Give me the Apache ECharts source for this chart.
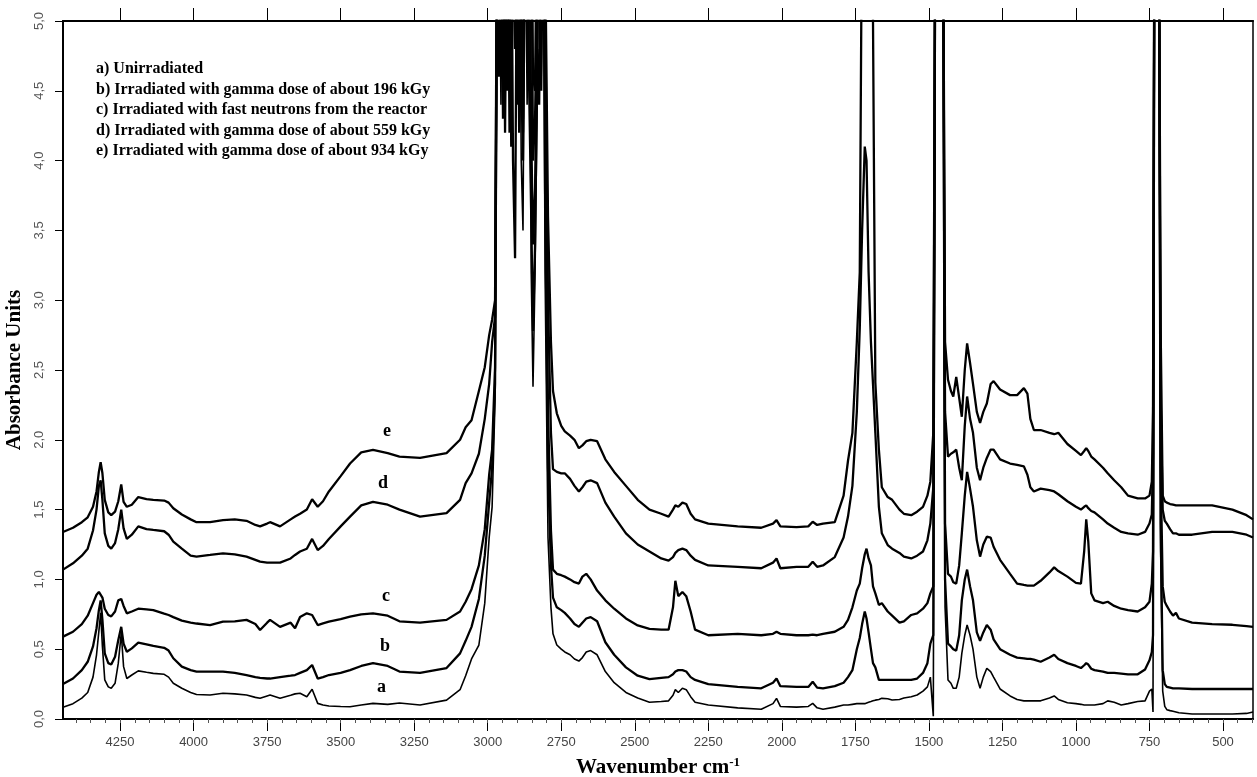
<!DOCTYPE html>
<html>
<head>
<meta charset="utf-8">
<script src="https://cdn.jsdelivr.net/npm/echarts@6/dist/echarts.min.js"></script>
<style>
html,body{margin:0;padding:0;background:#fff;}
#chart{width:1257px;height:777px;}
</style>
</head>
<body>
<div id="chart"></div>
<script>
// Wavenumber grid (cm-1), shared by all five spectra
const wavenumbers = [
4444,4410,4380,4360,4342,4330,4322,4316,4310,4302,4290,4280,4267,4256,4246,4238,4227,4210,4188,4160,4137,4100,4085,4069,4040,4010,
3990,3944,3900,3860,3820,3790,3774,3750,3740,3706,3670,3655,3638,3615,3597,3578,3560,3540,3500,3468,3430,3390,3340,3300,3230,3140,
3094,3075,3055,3030,3010,2995,2985,2975,
2968,2962,2955,2948,2941,2934,2927,2920,2914,2907,2900,2893,2886,2880,2873,2866,2859,2852,2846,2839,2832,2825,2818,2811,
2805,2795,2785,2778,2765,2750,2738,
2720,2705,2690,2678,2665,2650,2628,2600,2570,2530,2490,2450,2410,2385,2370,2362,2352,2338,2325,2310,2295,2250,2150,2070,2030,2018,
2005,1950,1910,1895,1880,1860,1820,1790,1775,1760,1745,1735,1727,1718,1712,1705,1697,1690,1682,1670,1660,1640,1625,1600,1585,1560,
1540,1520,1505,1495,1485,1478,1465,1452,1445,1435,1425,1417,1407,1397,1388,1378,1370,1360,1350,1337,1326,1315,1303,1290,1280,1258,
1224,1200,1177,1165,1155,1143,1120,1090,1074,1060,1029,1000,983,972,965,958,948,937,908,892,870,846,823,790,765,750,742,738,733,725,
718,712,705,698,691,680,670,660,650,605,537,468,420,398
];

// a) Unirradiated
const absA = [
.085,.11,.15,.19,.30,.46,.63,.76,.52,.28,.23,.22,.256,.40,.614,.375,.29,.315,.345,.335,.327,.32,.30,.256,.22,.19,
.175,.172,.185,.18,.172,.155,.148,.165,.172,.148,.17,.18,.184,.16,.213,.112,.10,.093,.09,.088,.10,.112,.105,.115,.10,.135,
.21,.31,.43,.53,.83,1.30,1.52,2.29,
5.5,6,4.4,6,4.5,6,4.2,6,5.2,6,4.6,6,4.0,3.5,6,4.4,6,3.2,2.38,3.2,4.4,6,4.6,6,
3.2,1.3,.80,.61,.53,.50,.48,
.46,.43,.415,.44,.48,.49,.46,.34,.26,.19,.15,.12,.125,.13,.17,.21,.19,.22,.21,.16,.12,.10,.08,.07,.11,.148,
.09,.085,.09,.112,.08,.07,.085,.10,.10,.105,.11,.11,.11,.11,.112,.12,.125,.13,.135,.14,.148,.145,.136,.14,.15,.16,
.172,.20,.23,.30,.02,6,6,6,.8,.28,.256,.22,.22,.30,.47,.60,.673,.60,.50,.30,.22,.30,.363,.34,.30,.215,
.165,.14,.13,.13,.13,.13,.13,.15,.165,.14,.116,.11,.105,.10,.10,.10,.10,.10,.11,.13,.12,.10,.11,.125,.13,.20,.215,.05,6,6,
6,1.2,.20,.09,.067,.06,.055,.05,.045,.036,.036,.036,.04,.05
];

// b) Gamma dose about 196 kGy
const absB = [
.25,.29,.35,.41,.52,.65,.78,.85,.71,.47,.40,.39,.446,.566,.66,.54,.482,.506,.547,.535,.523,.51,.49,.435,.375,.35,
.339,.339,.339,.33,.315,.30,.295,.29,.29,.30,.31,.315,.33,.35,.387,.29,.30,.315,.33,.35,.38,.40,.38,.34,.33,.365,
.47,.56,.66,.86,1.17,1.55,1.80,2.40,
5.6,4.6,6,4.3,6,4.6,6,4.1,6,6,6,4.2,6,4.0,6,6,4.5,3.6,2.78,3.4,4.6,6,6,6,
3.8,1.8,1.10,.87,.80,.78,.76,
.72,.68,.66,.69,.72,.73,.70,.55,.46,.37,.31,.285,.295,.30,.32,.34,.35,.35,.34,.30,.28,.25,.23,.22,.26,.29,
.235,.23,.23,.267,.225,.22,.235,.26,.30,.35,.50,.58,.68,.77,.72,.62,.50,.40,.37,.28,.28,.28,.28,.28,.28,.28,
.29,.33,.40,.54,.60,6,6,6,1.0,.54,.52,.50,.49,.60,.85,1.00,1.07,.95,.85,.62,.56,.62,.673,.64,.57,.50,
.46,.44,.435,.43,.43,.425,.41,.44,.46,.43,.40,.38,.365,.385,.40,.39,.36,.35,.34,.33,.33,.325,.32,.32,.355,.42,.48,.6,6,6,
6,1.4,.35,.25,.23,.225,.22,.22,.22,.215,.215,.215,.215,.215
];

// c) Fast neutrons from the reactor
const absC = [
.59,.625,.68,.74,.83,.89,.91,.90,.87,.79,.745,.735,.77,.85,.86,.81,.757,.77,.79,.785,.78,.755,.745,.73,.705,.69,
.684,.673,.697,.70,.71,.68,.637,.69,.71,.66,.69,.65,.73,.757,.745,.673,.685,.697,.715,.733,.75,.757,.74,.70,.69,.71,
.77,.84,.93,1.10,1.36,1.75,1.93,2.52,
5.7,6,4.7,6,4.2,6,4.6,6,4.0,3.3,6,6,4.4,4.2,6,6,6,4.2,3.4,3.8,4.8,4.4,6,6,
4.4,2.2,1.35,1.07,1.04,1.03,1.02,
1.00,.98,.97,1.02,1.04,1.00,.92,.85,.79,.72,.67,.645,.64,.64,.80,.99,.88,.91,.88,.77,.64,.60,.61,.60,.61,.625,
.61,.60,.60,.605,.60,.61,.625,.66,.71,.80,.92,.97,1.08,1.18,1.22,1.15,1.10,.95,.90,.817,.83,.77,.74,.69,.70,.745,
.757,.79,.83,.90,.95,6,6,6,1.4,1.04,1.02,.98,.97,1.10,1.33,1.60,1.77,1.65,1.52,1.28,1.163,1.25,1.306,1.30,1.234,1.14,
1.04,.97,.96,.955,.955,.955,.99,1.05,1.086,1.06,1.02,.975,.97,1.20,1.43,1.27,.90,.85,.83,.84,.81,.79,.78,.77,.80,.84,.97,1.2,6,6,
6,1.8,.95,.84,.81,.77,.74,.76,.72,.69,.68,.675,.665,.66
];

// d) Gamma dose about 559 kGy
const absD = [
1.07,1.115,1.17,1.22,1.35,1.50,1.67,1.71,1.57,1.33,1.24,1.22,1.26,1.36,1.50,1.366,1.29,1.32,1.38,1.36,1.354,1.345,1.32,1.27,1.22,1.17,
1.163,1.175,1.187,1.18,1.163,1.14,1.127,1.12,1.12,1.12,1.15,1.175,1.20,1.22,1.29,1.21,1.24,1.29,1.38,1.45,1.53,1.556,1.535,1.50,1.45,1.475,
1.57,1.69,1.76,1.90,2.15,2.40,2.70,2.88,
5.8,6,6,4.8,6,4.5,6,6,6,6,4.4,6,6,4.3,6,4.7,6,6,4.0,4.3,5.2,6,4.5,6,
5.2,3.0,2.05,1.79,1.77,1.76,1.76,
1.72,1.67,1.63,1.66,1.70,1.71,1.69,1.55,1.45,1.33,1.25,1.20,1.15,1.135,1.16,1.19,1.21,1.22,1.21,1.17,1.14,1.10,1.09,1.08,1.12,1.15,
1.08,1.09,1.09,1.127,1.09,1.10,1.16,1.30,1.45,1.67,2.20,2.80,3.50,4.10,4.0,3.2,2.7,2.4,2.05,1.52,1.33,1.246,1.22,1.19,1.163,1.15,
1.17,1.20,1.28,1.40,1.66,6,6,6,2.2,1.88,1.90,1.91,1.93,1.80,1.71,2.10,2.31,2.15,2.05,1.80,1.71,1.80,1.87,1.93,1.93,1.86,
1.83,1.82,1.81,1.75,1.66,1.63,1.65,1.64,1.63,1.61,1.56,1.52,1.50,1.52,1.53,1.51,1.49,1.48,1.43,1.40,1.37,1.34,1.33,1.32,1.34,1.40,1.465,1.9,6,6,
6,2.3,1.50,1.42,1.40,1.36,1.33,1.33,1.32,1.32,1.34,1.34,1.32,1.30
];

// e) Gamma dose about 934 kGy
const absE = [
1.34,1.37,1.41,1.445,1.52,1.63,1.77,1.84,1.76,1.57,1.48,1.46,1.485,1.56,1.68,1.556,1.52,1.535,1.59,1.575,1.57,1.565,1.55,1.51,1.465,1.43,
1.41,1.41,1.425,1.43,1.42,1.39,1.38,1.40,1.41,1.38,1.43,1.45,1.47,1.50,1.574,1.52,1.56,1.63,1.74,1.83,1.91,1.927,1.905,1.88,1.87,1.905,
2.0,2.09,2.14,2.35,2.52,2.75,2.86,3.0,
6,6,6,6,4.9,6,4.7,6,6,4.8,6,6,4.6,4.5,6,6,5.2,6,4.6,4.5,6,6,6,6,
5.6,3.6,2.7,2.35,2.19,2.10,2.06,
2.03,2.0,1.94,1.96,1.99,2.0,1.99,1.86,1.77,1.67,1.57,1.50,1.47,1.45,1.50,1.53,1.52,1.55,1.54,1.47,1.43,1.40,1.38,1.37,1.40,1.425,
1.38,1.375,1.38,1.413,1.39,1.40,1.41,1.60,1.85,2.05,2.70,3.2,6,6,6,6,6,5.0,2.41,1.93,1.66,1.59,1.57,1.50,1.47,1.46,
1.485,1.52,1.60,1.70,2.05,6,6,6,2.7,2.43,2.35,2.31,2.45,2.30,2.165,2.50,2.69,2.55,2.40,2.20,2.12,2.20,2.26,2.40,2.42,2.36,
2.32,2.32,2.37,2.33,2.15,2.07,2.07,2.05,2.04,2.05,1.97,1.92,1.89,1.92,1.94,1.92,1.88,1.86,1.80,1.76,1.71,1.66,1.60,1.58,1.58,1.60,1.70,2.2,6,6,
6,2.8,1.60,1.56,1.55,1.54,1.535,1.53,1.53,1.53,1.53,1.50,1.46,1.43
];

const seriesNames = ['a','b','c','d','e'];
const seriesValues = [absA, absB, absC, absD, absE];
const seriesWidths = [1.6, 2.3, 2.3, 2.3, 2.3];

const xTickValues = [4250,4000,3750,3500,3250,3000,2750,2500,2250,2000,1750,1500,1250,1000,750,500];
const legendLines = [
  'a) Unirradiated',
  'b) Irradiated with gamma dose of about 196 kGy',
  'c) Irradiated with fast neutrons from the reactor',
  'd) Irradiated with gamma dose of about 559 kGy',
  'e) Irradiated with gamma dose of about 934 kGy'
];
const curveLabels = [
  {t:'e', x:383, y:432},
  {t:'d', x:378, y:484},
  {t:'c', x:382, y:597},
  {t:'b', x:380, y:647},
  {t:'a', x:377, y:688}
];

const minorTicks = [];
for (let v = 400; v <= 4400; v += 50) minorTicks.push(v);

const XMIN = 398, XMAX = 4444;
const serif = '"Liberation Serif", "Times New Roman", serif';
const sans = '"Liberation Sans", "DejaVu Sans", sans-serif';

const chart = echarts.init(document.getElementById('chart'), null, {renderer: 'canvas'});

const graphics = [];
legendLines.forEach((t, i) => {
  graphics.push({
    type: 'text', left: 96, top: 61 + i * 20.5,
    style: {text: t, font: 'bold 16px ' + serif, fill: '#000'}
  });
});
curveLabels.forEach(l => {
  graphics.push({
    type: 'text', left: l.x, top: l.y - 10,
    style: {text: l.t, font: 'bold 18px ' + serif, fill: '#000'}
  });
});

const option = {
  animation: false,
  backgroundColor: '#fff',
  grid: {left: 63, right: 4, top: 21, bottom: 58, show: true, borderColor: '#000', borderWidth: 1.5,
         containLabel: false, outerBoundsMode: 'none'},
  xAxis: [
    {
      type: 'value', min: XMIN, max: XMAX, inverse: true, position: 'bottom',
      name: 'Wavenumber cm{sup|-1}', nameLocation: 'middle', nameGap: 37,
      nameTextStyle: {
        fontFamily: serif, fontWeight: 'bold', fontSize: 21, color: '#000',
        rich: {sup: {fontFamily: serif, fontWeight: 'bold', fontSize: 13, color: '#000', verticalAlign: 'top', padding: [0,0,10,0]}}
      },
      axisLine: {show: true, lineStyle: {color: '#000', width: 2}},
      axisTick: {show: true, inside: false, length: 12, lineStyle: {color: '#000', width: 1}, customValues: xTickValues},
      axisLabel: {show: true, margin: 17, fontFamily: sans, fontSize: 13, color: '#444', customValues: xTickValues,
        formatter: v => String(Math.round(v))},
      splitLine: {show: false}
    },
    {
      type: 'value', min: XMIN, max: XMAX, inverse: true, position: 'top',
      axisLine: {show: true, lineStyle: {color: '#000', width: 2}},
      axisTick: {show: true, inside: false, length: 13, lineStyle: {color: '#000', width: 1}, customValues: xTickValues},
      axisLabel: {show: false},
      splitLine: {show: false}
    },
    {
      type: 'value', min: XMIN, max: XMAX, inverse: true, position: 'bottom',
      axisLine: {show: false},
      axisTick: {show: true, inside: false, length: 4, lineStyle: {color: '#555', width: 1}, customValues: minorTicks},
      axisLabel: {show: false},
      splitLine: {show: false}
    }
  ],
  yAxis: [
    {
      type: 'value', min: 0, max: 5, interval: 0.5, position: 'left',
      name: 'Absorbance Units', nameLocation: 'middle', nameGap: 29, nameRotate: 90,
      nameTextStyle: {fontFamily: serif, fontWeight: 'bold', fontSize: 21, color: '#000'},
      axisLine: {show: true, lineStyle: {color: '#000', width: 2}},
      axisTick: {show: true, inside: false, length: 8, lineStyle: {color: '#000', width: 1}},
      axisLabel: {
        show: true, rotate: 90, margin: 17, fontFamily: sans, fontSize: 13, color: '#555',
        formatter: v => v.toFixed(1).replace('.', ',')
      },
      splitLine: {show: false}
    }
  ],
  series: seriesValues.map((vals, k) => ({
    name: seriesNames[k],
    type: 'line',
    xAxisIndex: 0, yAxisIndex: 0,
    showSymbol: false, symbol: 'none',
    clip: true,
    lineStyle: {color: '#000', width: seriesWidths[k]},
    data: wavenumbers.map((w, i) => [w, vals[i]])
  })),
  graphic: graphics
};
chart.setOption(option);
</script>
</body>
</html>
